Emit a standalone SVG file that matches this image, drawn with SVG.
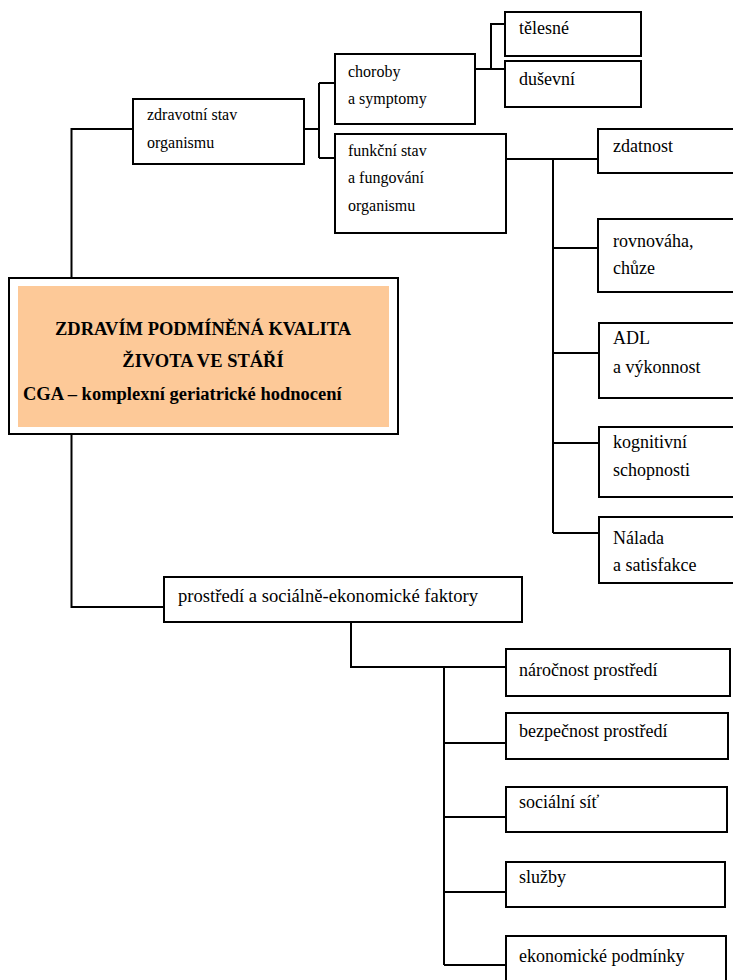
<svg xmlns="http://www.w3.org/2000/svg" width="733" height="980" viewBox="0 0 733 980">
<style>
.box{fill:#fff;stroke:#000;stroke-width:2}
.t{font-family:"Liberation Serif","Times New Roman",serif;fill:#000}
.s16{font-size:16px}
.s18{font-size:18px}
.b{font-family:"Liberation Serif","Times New Roman",serif;font-weight:bold;font-size:18.5px;fill:#000}
#connectors path{fill:none;stroke:#000;stroke-width:2}
</style>
<rect width="733" height="980" fill="#fff"/>
<g id="connectors">
<path d="M71.5,278 V129 H133"/>
<path d="M71.5,434 V607 H164"/>
<path d="M304,129 H319 M319,83 V158 M319,83 H335 M319,158 H335"/>
<path d="M475,69 H505 M491,69 V24 H505"/>
<path d="M506,159 H598 M553,159 V533 M553,248 H598 M553,353 H599 M553,443 H599 M553,533 H599"/>
<path d="M351,622 V667 H506 M444,667 V965 M444,743 H506 M444,817 H506 M444,892 H506 M444,965 H506"/>
</g>
<g id="main">
<rect x="9" y="278" width="389" height="156" fill="#fff" stroke="#000" stroke-width="2"/>
<rect x="18" y="286" width="371" height="141" fill="#FDC998"/>
<text class="b" x="203" y="335" text-anchor="middle">ZDRAVÍM PODMÍNĚNÁ KVALITA</text>
<text class="b" x="203" y="367" text-anchor="middle">ŽIVOTA VE STÁŘÍ</text>
<text class="b" x="23" y="400">CGA – komplexní geriatrické hodnocení</text>
</g>
<g id="zdravotni">
<rect class="box" x="133" y="99" width="171" height="65"/>
<text class="t s16" x="147" y="120">zdravotní stav</text>
<text class="t s16" x="147" y="148">organismu</text>
</g>
<g id="choroby">
<rect class="box" x="335" y="54" width="140" height="70"/>
<text class="t s16" x="348" y="77">choroby</text>
<text class="t s16" x="348" y="104">a symptomy</text>
</g>
<g id="funkcni">
<rect class="box" x="335" y="134" width="171" height="99"/>
<text class="t s16" x="348" y="156">funkční stav</text>
<text class="t s16" x="348" y="183">a fungování</text>
<text class="t s16" x="348" y="211">organismu</text>
</g>
<g id="telesne">
<rect class="box" x="505" y="12" width="136" height="44"/>
<text class="t s18" x="519" y="34">tělesné</text>
</g>
<g id="dusevni">
<rect class="box" x="505" y="61" width="136" height="46"/>
<text class="t s18" x="519" y="85">duševní</text>
</g>
<g id="zdatnost">
<rect class="box" x="598" y="129" width="145" height="44"/>
<text class="t s18" x="613" y="152">zdatnost</text>
</g>
<g id="rovnovaha">
<rect class="box" x="598" y="219" width="145" height="73"/>
<text class="t s18" x="613" y="247">rovnováha,</text>
<text class="t s18" x="613" y="274">chůze</text>
</g>
<g id="adl">
<rect class="box" x="599" y="323" width="145" height="75"/>
<text class="t s18" x="613" y="344">ADL</text>
<text class="t s18" x="613" y="373">a výkonnost</text>
</g>
<g id="kognitivni">
<rect class="box" x="599" y="427" width="145" height="70"/>
<text class="t s18" x="613" y="448">kognitivní</text>
<text class="t s18" x="613" y="476">schopnosti</text>
</g>
<g id="nalada">
<rect class="box" x="599" y="517" width="145" height="66"/>
<text class="t s18" x="613" y="544">Nálada</text>
<text class="t s18" x="613" y="571">a satisfakce</text>
</g>
<g id="prostredi">
<rect class="box" x="164" y="577" width="358" height="45"/>
<text class="t s18" x="178" y="602" textLength="300" lengthAdjust="spacingAndGlyphs">prostředí a sociálně-ekonomické faktory</text>
</g>
<g id="narocnost">
<rect class="box" x="506" y="649" width="224" height="47"/>
<text class="t s18" x="519" y="676">náročnost prostředí</text>
</g>
<g id="bezpecnost">
<rect class="box" x="506" y="713" width="222" height="46"/>
<text class="t s18" x="519" y="737">bezpečnost prostředí</text>
</g>
<g id="socialni">
<rect class="box" x="506" y="787" width="221" height="45"/>
<text class="t s18" x="519" y="808">sociální síť</text>
</g>
<g id="sluzby">
<rect class="box" x="506" y="862" width="219" height="45"/>
<text class="t s18" x="519" y="883">služby</text>
</g>
<g id="ekonomicke">
<rect class="box" x="506" y="936" width="220" height="50"/>
<text class="t s18" x="519" y="962">ekonomické podmínky</text>
</g>
</svg>
